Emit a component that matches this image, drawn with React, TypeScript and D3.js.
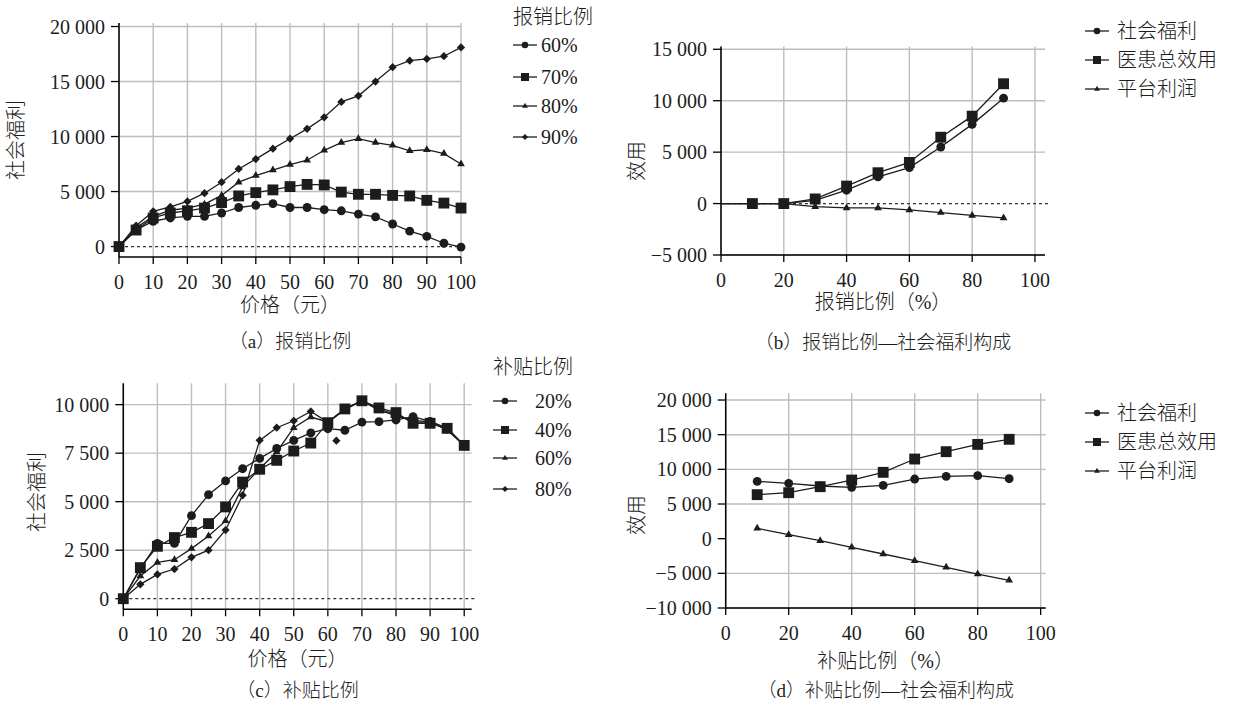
import React from 'react';
import * as d3 from 'd3';

// x values
const prices = [0, 5, 10, 15, 20, 25, 30, 35, 40, 45, 50, 55, 60, 65, 70, 75, 80, 85, 90, 95, 100];
const reimbRatios = [0, 10, 20, 30, 40, 50, 60, 70, 80, 90];
const subsidyRatios = [10, 20, 30, 40, 50, 60, 70, 80, 90];

// (a) 报销比例
const reimb60 = [0, 1500, 2300, 2600, 2750, 2750, 3050, 3550, 3750, 3900, 3550, 3550, 3350, 3250, 2950, 2700, 2050, 1400, 930, 300, -50];
const reimb70 = [0, 1500, 2600, 3050, 3250, 3500, 4000, 4600, 4900, 5150, 5450, 5650, 5600, 4950, 4750, 4750, 4650, 4600, 4200, 3950, 3500];
const reimb80 = [0, 1700, 2750, 3300, 3500, 3850, 4650, 5850, 6450, 6950, 7450, 7850, 8750, 9450, 9800, 9450, 9200, 8700, 8800, 8450, 7500];
const reimb90 = [0, 1900, 3200, 3600, 4100, 4850, 5850, 7050, 7950, 8900, 9800, 10700, 11750, 13150, 13700, 15000, 16300, 16900, 17050, 17300, 18100];

// (b) 报销比例—社会福利构成
const welfareB = [0, 0, 0, 300, 1300, 2600, 3500, 5500, 7700, 10250];
const utilityB = [0, 0, 0, 450, 1700, 3000, 4000, 6450, 8500, 11650];
const profitB = [0, 0, 0, -300, -420, -420, -620, -880, -1150, -1400];

// (c) 补贴比例
const sub20 = [0, 1550, 2850, 2850, 4280, 5360, 6070, 6700, 7230, 7740, 8160, 8540, 8760, 8680, 9100, 9120, 9210, 9380, 9140, 8800, 7900];
const sub40 = [0, 1600, 2700, 3150, 3420, 3870, 4730, 6010, 6670, 7130, 7610, 8020, 9070, 9780, 10200, 9830, 9590, 9040, 9040, 8780, 7900];
const sub60 = [0, 1170, 1870, 2010, 2580, 3230, 4010, 5760, 6700, 7560, 8810, 9360, 9110, 9740, 10200, 9710, 9450, 9190, 9110, 8710, 7900];
const sub80 = [0, 740, 1250, 1530, 2130, 2500, 3540, 5330, 8160, 8810, 9170, 9650, 9100, 9780, 10200, 9750, 9500, 9100, 9100, 8700, 7900];
const strayX = [62.5];
const strayY = [8140];

// (d) 补贴比例—社会福利构成
const welfareD = [8270, 7980, 7600, 7400, 7690, 8600, 8990, 9090, 8650];
const utilityD = [6350, 6630, 7500, 8460, 9570, 11490, 12550, 13600, 14330];
const profitD = [1490, 580, -290, -1250, -2210, -3170, -4130, -5100, -6010];

const ticks10 = [0, 10, 20, 30, 40, 50, 60, 70, 80, 90, 100];
const ticks20 = [0, 20, 40, 60, 80, 100];

const FONT = '"Liberation Serif", serif, "Noto Sans CJK SC"';
const INK = '#1c1c1c';
const GRID = '#bdbdbd';

type Mark = 'circle' | 'square' | 'triangle' | 'diamond';

const markPath = (m: Mark, small = false) => {
  const k = small ? 0.55 : 1;
  if (m === 'circle') return d3.symbol(d3.symbolCircle, 62 * k)() as string;
  if (m === 'square') return d3.symbol(d3.symbolSquare, 118 * k)() as string;
  if (m === 'triangle') return d3.symbol(d3.symbolTriangle, 26 * k)() as string;
  return d3.symbol(d3.symbolSquare, 34 * k)() as string;
};

const Marker = ({ m, x, y, small }: { m: Mark; x: number; y: number; small?: boolean }) => (
  <path d={markPath(m, small)} fill={INK}
    transform={`translate(${x},${y})${m === 'diamond' ? ' rotate(45)' : ''}`} />
);

const fmt = (v: number) => d3.format(',')(v).replace(/,/g, ' ');

type Series = { xs: number[]; ys: number[]; mark: Mark; skipZeroMark?: boolean };

type PanelProps = {
  left: number; right: number; top: number; bottom: number;
  xDomain: [number, number]; yDomain: [number, number];
  xTicks: number[]; yTicks: number[];
  zeroLine: boolean;
  series: Series[];
  loose?: { xs: number[]; ys: number[]; mark: Mark };
  yLabel: string; yLabelX: number; yLabelY: number;
  xLabel: string; xLabelY: number;
  caption: string; captionY: number;
};

function Panel(p: PanelProps) {
  const x = d3.scaleLinear().domain(p.xDomain).range([p.left, p.right]);
  const y = d3.scaleLinear().domain(p.yDomain).range([p.bottom, p.top]);
  const line = d3.line<[number, number]>().x(d => x(d[0])).y(d => y(d[1]));
  const cx = (p.left + p.right) / 2;
  return (
    <g style={{ fontFamily: FONT, fontWeight: 300 }} fill={INK}>
      {/* grid */}
      {p.xTicks.map(t => (
        <line key={'gx' + t} x1={x(t)} x2={x(t)} y1={p.top} y2={p.bottom} stroke={GRID} strokeWidth={1.4} />
      ))}
      {p.yTicks.filter(t => t !== 0).map(t => (
        <line key={'gy' + t} x1={p.left} x2={p.right} y1={y(t)} y2={y(t)} stroke={GRID} strokeWidth={1.4} />
      ))}
      {p.zeroLine && (
        <line x1={p.left} x2={p.right + 3} y1={y(0)} y2={y(0)} stroke="#333" strokeWidth={1.2} strokeDasharray="3,3" />
      )}
      {/* axes */}
      <line x1={p.left} x2={p.left} y1={p.top} y2={p.bottom} stroke="#000" strokeWidth={1.5} />
      <line x1={p.left} x2={p.right} y1={p.bottom} y2={p.bottom} stroke="#000" strokeWidth={1.5} />
      {p.yTicks.map(t => (
        <g key={'ty' + t}>
          <line x1={p.left - 8} x2={p.left} y1={y(t)} y2={y(t)} stroke="#000" strokeWidth={1.3} />
          <text x={p.left - 14} y={y(t)} textAnchor="end" dominantBaseline="central" fontSize={20}>{fmt(t)}</text>
        </g>
      ))}
      {p.xTicks.map(t => (
        <g key={'tx' + t}>
          <line x1={x(t)} x2={x(t)} y1={p.bottom} y2={p.bottom + 7} stroke="#000" strokeWidth={1.3} />
          <text x={x(t)} y={p.bottom + 25} textAnchor="middle" dominantBaseline="central" fontSize={20}>{t}</text>
        </g>
      ))}
      {/* series */}
      {p.series.map((s, i) => {
        const pts = s.xs.map((v, j) => [v, s.ys[j]] as [number, number]);
        return (
          <g key={'s' + i}>
            <path d={line(pts) as string} fill="none" stroke={INK} strokeWidth={1.3} />
            {pts.filter(d => !(s.skipZeroMark && d[0] === 0)).map((d, j) => (
              <Marker key={j} m={s.mark} x={x(d[0])} y={y(d[1])} />
            ))}
          </g>
        );
      })}
      {p.loose && p.loose.xs.map((v, j) => (
        <Marker key={'l' + j} m={p.loose!.mark} x={x(v)} y={y(p.loose!.ys[j])} />
      ))}
      {/* labels */}
      <text transform={`translate(${p.yLabelX},${p.yLabelY}) rotate(-90)`} textAnchor="middle"
        dominantBaseline="central" fontSize={20}>{p.yLabel}</text>
      <text x={cx} y={p.xLabelY} textAnchor="middle" dominantBaseline="central" fontSize={20}>{p.xLabel}</text>
      <text x={cx} y={p.captionY} textAnchor="middle" dominantBaseline="central" fontSize={19}>{p.caption}</text>
    </g>
  );
}

type LegendItem = { mark: Mark; label: string };

function Legend({ x, ys, items, title, titleY, textX }: {
  x: number; ys: number[]; items: LegendItem[]; title?: string; titleY?: number; textX: number;
}) {
  return (
    <g style={{ fontFamily: FONT, fontWeight: 300 }} fill={INK}>
      {title && <text x={x} y={titleY} dominantBaseline="central" fontSize={20}>{title}</text>}
      {items.map((it, i) => (
        <g key={i}>
          <line x1={x} x2={x + 24} y1={ys[i]} y2={ys[i]} stroke={INK} strokeWidth={1.3} />
          <Marker m={it.mark} x={x + 12} y={ys[i]} small />
          <text x={textX} y={ys[i]} dominantBaseline="central" fontSize={20}>{it.label}</text>
        </g>
      ))}
    </g>
  );
}

export default function App() {
  return (
    <svg width={1239} height={708} style={{ position: 'absolute', left: 0, top: 0, background: '#fff' }}>
      <Panel left={119} right={461} top={23} bottom={257}
        xDomain={[0, 100]} yDomain={[-950, 20320]}
        xTicks={ticks10} yTicks={[0, 5000, 10000, 15000, 20000]} zeroLine
        series={[
          { xs: prices, ys: reimb60, mark: 'circle' },
          { xs: prices, ys: reimb70, mark: 'square' },
          { xs: prices, ys: reimb80, mark: 'triangle' },
          { xs: prices, ys: reimb90, mark: 'diamond' },
        ]}
        yLabel="社会福利" yLabelX={16} yLabelY={140}
        xLabel="价格（元）" xLabelY={305} caption="（a）报销比例" captionY={341} />
      <Legend x={513} ys={[45, 77, 106, 137]} title="报销比例" titleY={17} textX={541}
        items={[
          { mark: 'circle', label: '60%' }, { mark: 'square', label: '70%' },
          { mark: 'triangle', label: '80%' }, { mark: 'diamond', label: '90%' },
        ]} />

      <Panel left={721} right={1045} top={46.5} bottom={255}
        xDomain={[0, 103.2]} yDomain={[-5000, 15270]}
        xTicks={ticks20} yTicks={[-5000, 0, 5000, 10000, 15000]} zeroLine
        series={[
          { xs: reimbRatios, ys: welfareB, mark: 'circle', skipZeroMark: true },
          { xs: reimbRatios, ys: utilityB, mark: 'square', skipZeroMark: true },
          { xs: reimbRatios, ys: profitB, mark: 'triangle', skipZeroMark: true },
        ]}
        yLabel="效用" yLabelX={637} yLabelY={161}
        xLabel="报销比例（%）" xLabelY={302} caption="（b）报销比例—社会福利构成" captionY={342} />
      <Legend x={1085} ys={[31, 60, 89]} textX={1117}
        items={[
          { mark: 'circle', label: '社会福利' }, { mark: 'square', label: '医患总效用' },
          { mark: 'triangle', label: '平台利润' },
        ]} />

      <Panel left={123.3} right={471.7} top={383.3} bottom={609.3}
        xDomain={[0, 102.2]} yDomain={[-546, 11100]}
        xTicks={ticks10} yTicks={[0, 2500, 5000, 7500, 10000]} zeroLine
        series={[
          { xs: prices, ys: sub20, mark: 'circle' },
          { xs: prices, ys: sub40, mark: 'square' },
          { xs: prices, ys: sub60, mark: 'triangle' },
          { xs: prices, ys: sub80, mark: 'diamond' },
        ]}
        loose={{ xs: strayX, ys: strayY, mark: 'diamond' }}
        yLabel="社会福利" yLabelX={37} yLabelY={492}
        xLabel="价格（元）" xLabelY={659} caption="（c）补贴比例" captionY={690} />
      <Legend x={493} ys={[401, 430, 458, 489]} title="补贴比例" titleY={367} textX={535}
        items={[
          { mark: 'circle', label: '20%' }, { mark: 'square', label: '40%' },
          { mark: 'triangle', label: '60%' }, { mark: 'diamond', label: '80%' },
        ]} />

      <Panel left={725.7} right={1045.7} top={393.3} bottom={608}
        xDomain={[0, 101.6]} yDomain={[-10000, 20970]}
        xTicks={ticks20} yTicks={[-10000, -5000, 0, 5000, 10000, 15000, 20000]} zeroLine={false}
        series={[
          { xs: subsidyRatios, ys: welfareD, mark: 'circle' },
          { xs: subsidyRatios, ys: utilityD, mark: 'square' },
          { xs: subsidyRatios, ys: profitD, mark: 'triangle' },
        ]}
        yLabel="效用" yLabelX={637} yLabelY={515}
        xLabel="补贴比例（%）" xLabelY={661} caption="（d）补贴比例—社会福利构成" captionY={690} />
      <Legend x={1085} ys={[413, 442, 471]} textX={1117}
        items={[
          { mark: 'circle', label: '社会福利' }, { mark: 'square', label: '医患总效用' },
          { mark: 'triangle', label: '平台利润' },
        ]} />
    </svg>
  );
}
